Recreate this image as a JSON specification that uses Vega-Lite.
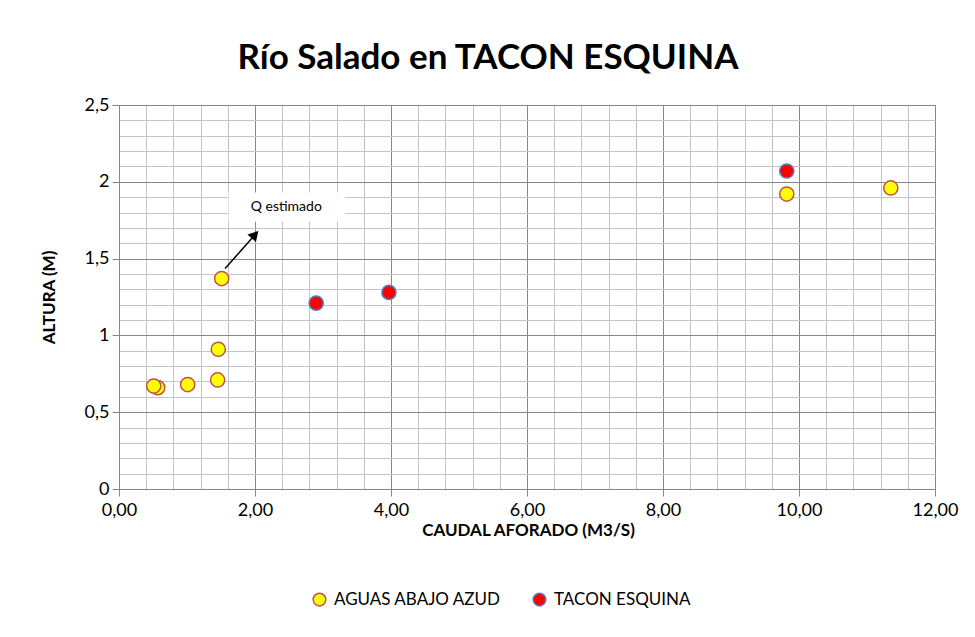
{
  "$schema": "https://vega.github.io/schema/vega-lite/v6.json",
  "width": 816,
  "height": 384,
  "autosize": {"type": "none"},
  "padding": {"left": 119, "top": 105, "right": 40, "bottom": 148},
  "background": "white",
  "config": {
    "font": "Lato",
    "view": {"stroke": "#868686", "strokeWidth": 1},
    "axis": {"labelFont": "Lato", "titleFont": "Lato", "labelColor": "#000", "titleColor": "#000"}
  },
  "title": {
    "text": "Río Salado en TACON ESQUINA",
    "font": "Lato",
    "fontSize": 35,
    "fontWeight": "bold",
    "color": "#000",
    "anchor": "middle",
    "dx": -39,
    "baseline": "alphabetic",
    "offset": -8
  },
  "layer": [
    {
      "data": {"values": [{"x1": 1.61, "x2": 3.32, "y1": 1.74, "y2": 1.93}]},
      "mark": {"type": "rect", "fill": "white", "stroke": null},
      "encoding": {
        "x": {"field": "x1", "type": "quantitative", "scale": {"domain": [0, 12], "nice": false, "zero": false}},
        "x2": {"field": "x2"},
        "y": {"field": "y1", "type": "quantitative", "scale": {"domain": [0, 2.5], "nice": false}},
        "y2": {"field": "y2"}
      }
    },
    {
      "data": {"values": [{"x": 2.46, "y": 1.835, "label": "Q estimado"}]},
      "mark": {"type": "text", "font": "Lato", "fontSize": 14, "color": "#000"},
      "encoding": {
        "x": {"field": "x", "type": "quantitative"},
        "y": {"field": "y", "type": "quantitative"},
        "text": {"field": "label"}
      }
    },
    {
      "data": {"values": [{"x1": 1.56, "y1": 1.435, "x2": 2.0, "y2": 1.655}]},
      "mark": {"type": "rule", "color": "#000", "strokeWidth": 1.5},
      "encoding": {
        "x": {"field": "x1", "type": "quantitative"},
        "y": {"field": "y1", "type": "quantitative"},
        "x2": {"field": "x2"},
        "y2": {"field": "y2"}
      }
    },
    {
      "data": {"values": [{"x": 2.0, "y": 1.656}]},
      "mark": {"type": "point", "shape": "triangle-up", "angle": 42, "size": 130, "filled": true, "color": "#000", "opacity": 1},
      "encoding": {
        "x": {"field": "x", "type": "quantitative"},
        "y": {"field": "y", "type": "quantitative"}
      }
    },
    {
      "data": {"values": [
        {"caudal": 0.57, "altura": 0.66, "serie": "AGUAS ABAJO AZUD"},
        {"caudal": 0.51, "altura": 0.67, "serie": "AGUAS ABAJO AZUD"},
        {"caudal": 1.01, "altura": 0.68, "serie": "AGUAS ABAJO AZUD"},
        {"caudal": 1.45, "altura": 0.71, "serie": "AGUAS ABAJO AZUD"},
        {"caudal": 1.46, "altura": 0.91, "serie": "AGUAS ABAJO AZUD"},
        {"caudal": 1.51, "altura": 1.37, "serie": "AGUAS ABAJO AZUD"},
        {"caudal": 9.82, "altura": 1.92, "serie": "AGUAS ABAJO AZUD"},
        {"caudal": 11.35, "altura": 1.96, "serie": "AGUAS ABAJO AZUD"},
        {"caudal": 2.9, "altura": 1.21, "serie": "TACON ESQUINA"},
        {"caudal": 3.97, "altura": 1.28, "serie": "TACON ESQUINA"},
        {"caudal": 9.82, "altura": 2.07, "serie": "TACON ESQUINA"}
      ]},
      "mark": {"type": "point", "filled": true, "size": 200, "strokeWidth": 1.5, "opacity": 1},
      "encoding": {
        "x": {
          "field": "caudal", "type": "quantitative",
          "scale": {"domain": [0, 12], "nice": false, "zero": false},
          "axis": {
            "title": "CAUDAL AFORADO (M3/S)",
            "titleFontSize": 17, "titleFontWeight": "bold",
            "titleX": 409, "titleY": 41, "titleBaseline": "middle",
            "tickCount": 200,
            "values": [0, 0.4, 0.8, 1.2, 1.6, 2, 2.4, 2.8, 3.2, 3.6, 4, 4.4, 4.8, 5.2, 5.6, 6, 6.4, 6.8, 7.2, 7.6, 8, 8.4, 8.8, 9.2, 9.6, 10, 10.4, 10.8, 11.2, 11.6, 12],
            "labelExpr": "datum.value % 2 === 0 ? replace(format(datum.value, '.2f'), '.', ',') : ''",
            "labelFontSize": 18, "labelPadding": 5,
            "tickSize": 7, "tickColor": "#868686",
            "tickOpacity": {"condition": {"test": "datum.value % 2 === 0", "value": 1}, "value": 0},
            "domainColor": "#868686",
            "grid": true,
            "gridColor": {"condition": {"test": "datum.value % 2 === 0", "value": "#868686"}, "value": "#c4c4c4"},
            "gridWidth": 1,
            "labelOverlap": false,
            "labelFlush": false
          }
        },
        "y": {
          "field": "altura", "type": "quantitative",
          "scale": {"domain": [0, 2.5], "nice": false},
          "axis": {
            "title": "ALTURA (M)",
            "titleFontSize": 17, "titleFontWeight": "bold",
            "titleX": -70, "titleY": 192, "titleBaseline": "middle", "titleAlign": "center", "titleAngle": -90,
            "tickCount": 200,
            "values": [0, 0.1, 0.2, 0.3, 0.4, 0.5, 0.6, 0.7, 0.8, 0.9, 1, 1.1, 1.2, 1.3, 1.4, 1.5, 1.6, 1.7, 1.8, 1.9, 2, 2.1, 2.2, 2.3, 2.4, 2.5],
            "labelExpr": "indexof([0, 0.5, 1, 1.5, 2, 2.5], datum.value) >= 0 ? replace(datum.value + '', '.', ',') : ''",
            "labelFontSize": 18, "labelPadding": 3,
            "tickSize": 7, "tickColor": "#868686",
            "tickOpacity": {"condition": {"test": "indexof([0, 0.5, 1, 1.5, 2, 2.5], datum.value) >= 0", "value": 1}, "value": 0},
            "domainColor": "#868686",
            "grid": true,
            "gridColor": {"condition": {"test": "indexof([0, 0.5, 1, 1.5, 2, 2.5], datum.value) >= 0", "value": "#868686"}, "value": "#c4c4c4"},
            "gridWidth": 1,
            "labelOverlap": false,
            "labelFlush": false
          }
        },
        "fill": {
          "field": "serie", "type": "nominal",
          "scale": {"domain": ["AGUAS ABAJO AZUD", "TACON ESQUINA"], "range": ["#FFFF00", "#FF0000"]},
          "legend": {
            "title": null, "orient": "none", "direction": "horizontal",
            "legendX": 192, "legendY": 486,
            "labelFont": "Lato", "labelFontSize": 17, "labelColor": "#000", "labelLimit": 400,
            "symbolSize": 160, "symbolStrokeWidth": 1.5, "columnPadding": 28, "labelOffset": 6
          }
        },
        "stroke": {
          "field": "serie", "type": "nominal",
          "scale": {"domain": ["AGUAS ABAJO AZUD", "TACON ESQUINA"], "range": ["#C0504D", "#4F81BD"]},
          "legend": null
        }
      }
    }
  ]
}
